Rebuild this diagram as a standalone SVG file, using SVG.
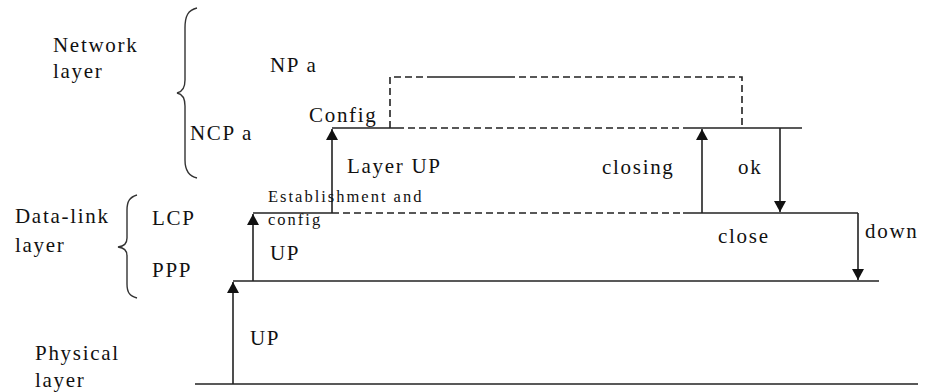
<svg xmlns="http://www.w3.org/2000/svg" width="926" height="392" viewBox="0 0 926 392">
<defs>
<style>
.t{font-family:"Liberation Serif","DejaVu Serif","Times New Roman",serif;font-size:21px;letter-spacing:1.7px;fill:#111}
.s{font-family:"Liberation Serif","DejaVu Serif","Times New Roman",serif;font-size:16.5px;letter-spacing:2px;fill:#111}
.ln{stroke:#222;stroke-width:1.6;fill:none}
.d{stroke:#222;stroke-width:1.6;fill:none;stroke-dasharray:7 4}
.br{stroke:#333;stroke-width:1.4;fill:none}
.ar{stroke:#222;stroke-width:1.6;fill:none;marker-end:url(#ah)}
</style>
<marker id="ah" markerUnits="userSpaceOnUse" markerWidth="12" markerHeight="12" refX="11" refY="6" orient="auto" viewBox="0 0 12 12">
<path d="M0,0 L11,6 L0,12 z" fill="#111"/>
</marker>
</defs>
<rect width="926" height="392" fill="#fff"/>

<g id="labels-network">
<text class="t" x="53" y="52">Network</text>
<text class="t" x="53" y="78">layer</text>
<path class="br" d="M197,8 C188,10 185,16 185,28 L185,80 C185,88 182,92 177,93 C182,94 185,98 185,106 L185,160 C185,170 188,176 197,178"/>
<text class="t" x="270" y="72">NP a</text>
<text class="t" x="190" y="140">NCP a</text>
</g>

<g id="labels-datalink">
<text class="t" x="15" y="223">Data-link</text>
<text class="t" x="15" y="252">layer</text>
<path class="br" d="M137,195 C130,197 127,201 127,210 L127,238 C127,244 124,246 118,247 C124,248 127,250 127,256 L127,284 C127,293 130,296 137,298"/>
<text class="t" x="152" y="225">LCP</text>
<text class="t" x="152" y="277">PPP</text>
</g>

<g id="labels-physical">
<text class="t" x="35" y="360">Physical</text>
<text class="t" x="35" y="387">layer</text>
</g>

<g id="levels">
<path class="ln" d="M195,384 H918"/>
<path class="ln" d="M233,281 H879"/>
<path class="ln" d="M253,213 H332"/>
<path class="d" d="M332,213 H683"/>
<path class="ln" d="M683,213 H858"/>
<path class="ln" d="M332,128 H397"/>
<path class="d" d="M397,128 H683"/>
<path class="ln" d="M683,128 H802"/>
<path class="d" d="M390,128 V77 H427"/>
<path class="ln" d="M427,77 H508"/>
<path class="d" d="M508,77 H742 V128"/>
</g>

<g id="connectors">
<path class="ar" d="M233,384 V282"/>
<path class="ar" d="M253,281 V214"/>
<path class="ar" d="M332,213 V129"/>
<path class="ar" d="M702,213 V129"/>
<path class="ar" d="M780,128 V212"/>
<path class="ar" d="M858,213 V280"/>
</g>

<g id="edge-labels">
<text class="t" x="250" y="345">UP</text>
<text class="t" x="270" y="260">UP</text>
<text class="s" x="268" y="202">Establishment and</text>
<text class="s" x="268" y="225">config</text>
<text class="t" x="309" y="122">Config</text>
<text class="t" x="347" y="173">Layer UP</text>
<text class="t" x="602" y="174">closing</text>
<text class="t" x="738" y="174">ok</text>
<text class="t" x="718" y="243">close</text>
<text class="t" x="865" y="238">down</text>
</g>
</svg>
